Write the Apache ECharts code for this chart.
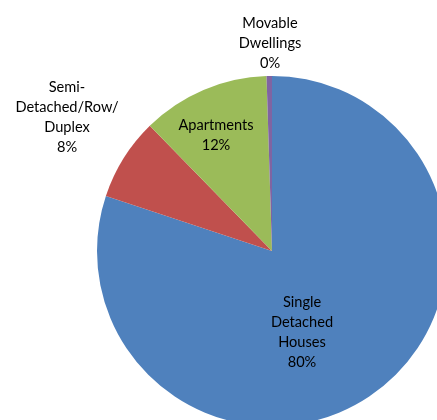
<!DOCTYPE html>
<html><head><meta charset="utf-8">
<script src="https://cdn.jsdelivr.net/npm/echarts@6/dist/echarts.min.js"></script>
<style>html,body{margin:0;padding:0;background:#fff}#c{width:437px;height:420px}</style>
</head><body><div id="c"></div>
<script>
const categories = ['Single\nDetached\nHouses', 'Semi-\nDetached/Row/\nDuplex', 'Apartments', 'Movable\nDwellings'];
const values = [80.1, 7.6, 11.8, 0.5];
const colors = ['#4F81BD', '#C0504D', '#9BBB59', '#8064A2'];
const labelPos = [[302, 332], [67, 117], [216, 135], [270, 43]];

const chart = echarts.init(document.getElementById('c'), null, {renderer: 'canvas'});
chart.setOption({
  animation: false,
  series: [{
    type: 'pie',
    center: [272, 251],
    radius: 175,
    startAngle: 90,
    clockwise: true,
    percentPrecision: 0,
    itemStyle: {borderWidth: 0},
    data: categories.map((n, i) => ({name: n, value: values[i], itemStyle: {color: colors[i]}})),
    label: {
      show: true,
      position: 'inside',
      formatter: '{b}\n{d}%',
      fontFamily: 'Lato',
      fontSize: 14.6,
      lineHeight: 20,
      color: '#000',
      align: 'center',
      overflow: 'none',
      width: 200
    },
    labelLine: {show: false},
    labelLayout: function (p) {
      const pos = labelPos[p.dataIndex];
      return {x: pos[0], y: pos[1], align: 'center', verticalAlign: 'middle', hideOverlap: false};
    },
    emphasis: {disabled: true}
  }]
});
</script></body></html>
